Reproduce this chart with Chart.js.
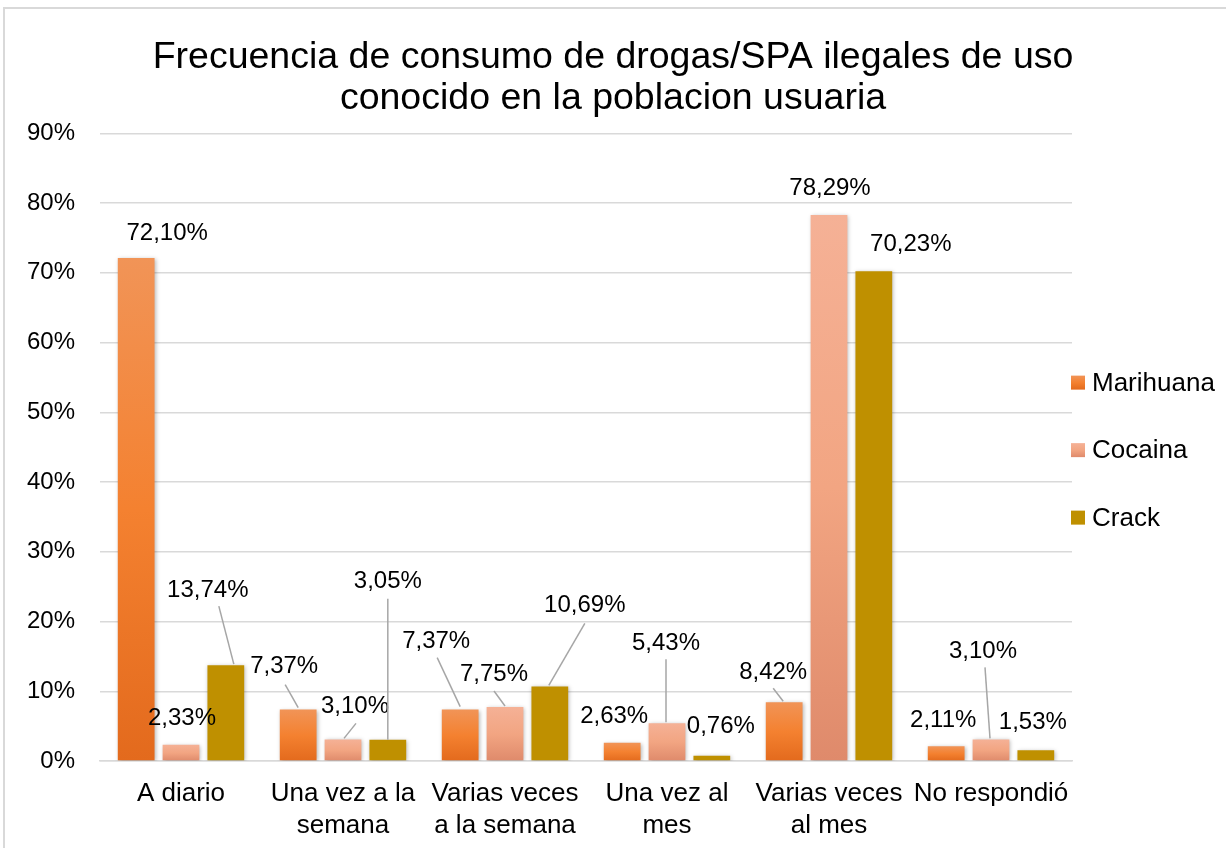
<!DOCTYPE html>
<html>
<head>
<meta charset="utf-8">
<title>Frecuencia de consumo de drogas/SPA ilegales</title>
<script src="https://cdn.jsdelivr.net/npm/chart.js@4.4.1/dist/chart.umd.min.js"></script>
<style>
  html, body { margin: 0; padding: 0; background: #fff; }
  #wrap { position: relative; width: 1226px; height: 848px; }
</style>
</head>
<body>
<div id="wrap"><canvas id="chart"></canvas></div>
<script>
// Data
const categories = [
    'A diario',
    ['Una vez a la', 'semana'],
    ['Varias veces', 'a la semana'],
    ['Una vez al', 'mes'],
    ['Varias veces', 'al mes'],
    'No respondió'
];
const seriesNames = ['Marihuana', 'Cocaina', 'Crack'];
const marihuana = [72.10, 7.37, 7.37, 2.63, 8.42, 2.11];
const cocaina = [2.33, 3.10, 7.75, 5.43, 78.29, 3.10];
const crack = [13.74, 3.05, 10.69, 0.76, 70.23, 1.53];
const yMax = 90;
const yStep = 10;

// Colours (top, middle, bottom of each bar)
const seriesColors = [
    ['#f19457', '#f48130', '#e36a1d'],
    ['#f5b196', '#f2a582', '#df8a6b'],
    ['#bf9000', '#bf9000', '#bf9000']
];

// Label placement, relative to the top centre of each bar: [dx, dy]
const labelOffsets = [
    [[31, -25], [-14, -43], [-24, -68], [-8, -26], [-11, -30], [-3, -26]],
    [[1, -26], [12, -33], [-11, -33], [-1, -80], [1, -27], [-8, -88]],
    [[-18, -75], [0, -158], [35, -81], [9, -29], [37, -27], [-3, -28]]
];
// Leader lines, relative to the top centre of each bar: [x1, y1, x2, y2]
const leaderLines = [
    [null, [-13, -25, 0, -2], [-23, -52, 0, -3], null, [-11, -14, -1, -1], null],
    [null, [13, -16, 1, -1], [-11, -16, 0, -1], [-1, -64, -1, -1], null, [-6, -72, -1, -1]],
    [[-7, -59, 8, -1], [0, -141, 0, 0], [35, -63, -1, -1], null, null, null]
];

const FONT = "'Liberation Sans', Arial, sans-serif";

function formatPct(v) {
    return v.toFixed(2).replace('.', ',') + '%';
}

// Vertical gradient per bar, light at top and darker at the base
function barFill(stops) {
    return function(context) {
        const chart = context.chart;
        if (!chart.chartArea || context.type !== 'data') return stops[1];
        const y = chart.scales.y;
        const top = y.getPixelForValue(context.raw);
        const bottom = y.getPixelForValue(0);
        if (!isFinite(top) || bottom - top < 1) return stops[1];
        const g = chart.ctx.createLinearGradient(0, top, 0, bottom);
        g.addColorStop(0, stops[0]);
        g.addColorStop(0.5, stops[1]);
        g.addColorStop(1, stops[2]);
        return g;
    };
}

// White background and the thin frame of the chart object
const frame = {
    id: 'frame',
    beforeDraw(chart) {
        const ctx = chart.ctx;
        ctx.save();
        ctx.fillStyle = '#fff';
        ctx.fillRect(0, 0, chart.width, chart.height);
        ctx.strokeStyle = '#d9d9d9';
        ctx.lineWidth = 2;
        ctx.beginPath();
        ctx.moveTo(4, chart.height);
        ctx.lineTo(4, 8);
        ctx.lineTo(chart.width, 8);
        ctx.stroke();
        ctx.restore();
    }
};

// Soft shadow under the bars
const barShadow = {
    id: 'barShadow',
    beforeDatasetDraw(chart) {
        const ctx = chart.ctx;
        ctx.save();
        ctx.shadowColor = 'rgba(0, 0, 0, 0.28)';
        ctx.shadowBlur = 4;
        ctx.shadowOffsetX = 1;
        ctx.shadowOffsetY = 1;
    },
    afterDatasetDraw(chart) {
        chart.ctx.restore();
    }
};

// Value labels with leader lines
const barLabels = {
    id: 'barLabels',
    afterDatasetsDraw(chart) {
        const ctx = chart.ctx;
        ctx.save();
        chart.data.datasets.forEach((ds, di) => {
            const meta = chart.getDatasetMeta(di);
            meta.data.forEach((bar, i) => {
                const lead = leaderLines[di][i];
                if (lead) {
                    ctx.strokeStyle = '#a6a6a6';
                    ctx.lineWidth = 1.5;
                    ctx.beginPath();
                    ctx.moveTo(bar.x + lead[0], bar.y + lead[1]);
                    ctx.lineTo(bar.x + lead[2], bar.y + lead[3]);
                    ctx.stroke();
                }
                const off = labelOffsets[di][i];
                ctx.fillStyle = '#000';
                ctx.font = '24px ' + FONT;
                ctx.textAlign = 'center';
                ctx.textBaseline = 'middle';
                ctx.fillText(formatPct(ds.data[i]), bar.x + off[0], bar.y + off[1]);
            });
        });
        ctx.restore();
    }
};

// Legend on the right, added as a layout box so the title stays centred on the canvas
const sideLegend = {
    id: 'sideLegend',
    beforeInit(chart) {
        const box = {
            position: 'right',
            weight: 1000,
            fullSize: false,
            options: {},
            width: 0,
            height: 0,
            isHorizontal() { return false; },
            update(maxWidth, maxHeight) {
                this.width = 154;
                this.height = maxHeight;
            },
            draw() {
                const ctx = chart.ctx;
                const area = chart.chartArea;
                const mid = (area.top + area.bottom) / 2 + 3;
                const gap = 67.5;
                ctx.save();
                ctx.font = '26px ' + FONT;
                ctx.textBaseline = 'middle';
                ctx.textAlign = 'left';
                chart.data.datasets.forEach((ds, i) => {
                    const y = mid + (i - 1) * gap;
                    const x = this.left - 1;
                    const stops = seriesColors[i];
                    const g = ctx.createLinearGradient(0, y - 7, 0, y + 7);
                    g.addColorStop(0, stops[0]);
                    g.addColorStop(0.5, stops[1]);
                    g.addColorStop(1, stops[2]);
                    ctx.fillStyle = g;
                    ctx.fillRect(x, y - 7, 14, 14);
                    ctx.fillStyle = '#000';
                    ctx.fillText(ds.label, x + 21, y + 1);
                });
                ctx.restore();
            }
        };
        Chart.layouts.addBox(chart, box);
    }
};

const datasets = [marihuana, cocaina, crack].map((values, i) => ({
    label: seriesNames[i],
    data: values,
    backgroundColor: barFill(seriesColors[i]),
    borderWidth: 0,
    categoryPercentage: 0.83,
    barPercentage: 0.82
}));

new Chart(document.getElementById('chart'), {
    type: 'bar',
    data: { labels: categories, datasets: datasets },
    plugins: [frame, barShadow, barLabels, sideLegend],
    options: {
        responsive: true,
        maintainAspectRatio: false,
        animation: false,
        layout: { padding: { top: 0, right: 0, bottom: 0, left: 0 } },
        plugins: {
            legend: { display: false },
            tooltip: { enabled: false },
            title: {
                display: true,
                text: ['Frecuencia de consumo de drogas/SPA ilegales de uso', 'conocido en la poblacion usuaria'],
                color: '#000',
                font: { family: FONT, size: 37.5, weight: 'normal', lineHeight: 1.07 },
                padding: { top: 38, bottom: 15 }
            }
        },
        scales: {
            x: {
                grid: { display: false },
                border: { display: true, color: '#d9d9d9', width: 1.5 },
                ticks: {
                    color: '#000',
                    font: { family: FONT, size: 26, lineHeight: 1.23 },
                    padding: 9,
                    maxRotation: 0,
                    autoSkip: false
                },
                afterFit(scale) { scale.height = 87; }
            },
            y: {
                min: 0,
                max: yMax,
                grid: { color: '#d9d9d9', lineWidth: 1.5, drawTicks: false },
                border: { display: false },
                ticks: {
                    stepSize: yStep,
                    color: '#000',
                    font: { family: FONT, size: 24 },
                    padding: 25,
                    callback: (v) => v + '%'
                },
                afterFit(scale) { scale.width = 100; }
            }
        }
    }
});
</script>
</body>
</html>
